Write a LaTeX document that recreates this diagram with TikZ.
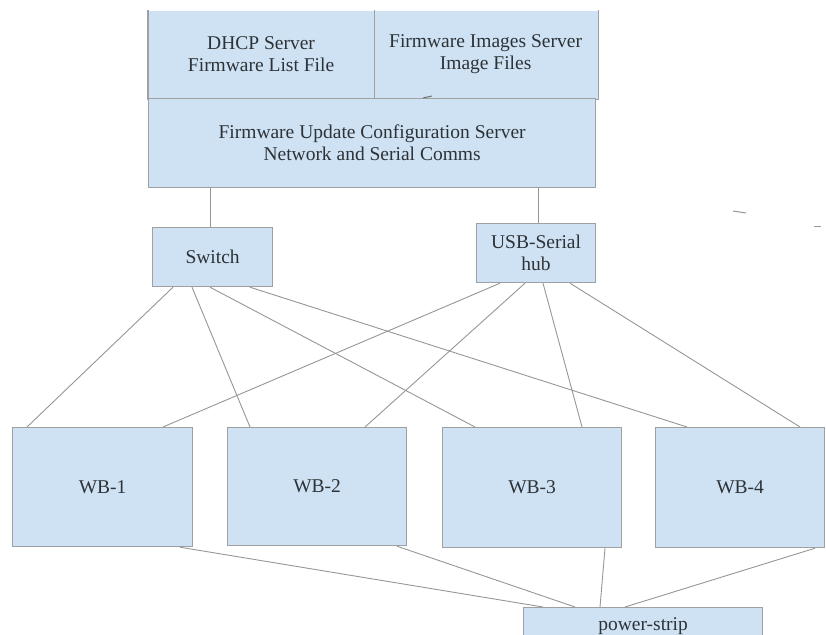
\documentclass[tikz,border=0pt]{standalone}
\usepackage{fontspec}
\setmainfont{Liberation Serif}
\usetikzlibrary{calc}
\definecolor{boxfill}{RGB}{207,226,243}
\definecolor{boxline}{RGB}{158,160,162}
\definecolor{wirecol}{RGB}{150,150,150}
\definecolor{txtcol}{RGB}{45,50,55}

\begin{document}
\begin{tikzpicture}[x=1pt,y=-1pt,
  box/.style={draw=boxline,fill=boxfill,line width=1.2pt,inner sep=0pt,
    anchor=north west,text=txtcol,align=center,
    font=\fontsize{19.5}{22}\selectfont},
  openbox/.style={box,draw=none},
  edge/.style={draw=boxline,line width=1.2pt},
  wire/.style={draw=wirecol,line width=0.9pt},
  speck/.style={draw=wirecol,line width=1pt}]
\useasboundingbox (0,0) rectangle (826,634);
\clip (0,0) rectangle (826,634);

% servers (the upper pair is open at the top)
\node[openbox,minimum width=225,minimum height=88] (dhcp) at (148,10) {DHCP Server\\Firmware List File};
\node[openbox,minimum width=224,minimum height=88] (img) at (373,10) {Firmware Images Server\\Image Files};
\draw[edge] (dhcp.north west) -- (dhcp.south west) -- (img.south east) -- (img.north east);
\draw[edge] (dhcp.north east) -- (dhcp.south east);
\node[box,minimum width=447,minimum height=89] (cfg) at (148,98) {Firmware Update Configuration Server\\Network and Serial Comms};

% distribution
\node[box,minimum width=120,minimum height=59] (sw) at (152,227) {Switch};
\node[box,minimum width=119,minimum height=59] (usb) at (476,223) {USB-Serial\\hub};

% boards
\node[box,minimum width=180,minimum height=119] (wb1) at (12,427) {WB-1};
\node[box,minimum width=179,minimum height=118] (wb2) at (227,427) {WB-2};
\node[box,minimum width=179,minimum height=120] (wb3) at (442,427) {WB-3};
\node[box,minimum width=169,minimum height=120] (wb4) at (655,427) {WB-4};

% power
\node[box,minimum width=239,minimum height=37] (ps) at (523,607) {power-strip};

% server to distribution
\draw[wire] ([xshift=62]cfg.south west) -- ([xshift=58]sw.north west);
\draw[wire] ([xshift=390]cfg.south west) -- ([xshift=62]usb.north west);

% network links
\draw[wire] ([xshift=21]sw.south west) -- ([xshift=15]wb1.north west);
\draw[wire] ([xshift=40]sw.south west) -- ([xshift=23]wb2.north west);
\draw[wire] ([xshift=58]sw.south west) -- ([xshift=33]wb3.north west);
\draw[wire] ([xshift=98]sw.south west) -- ([xshift=32]wb4.north west);

% serial links
\draw[wire] ([xshift=24]usb.south west) -- ([xshift=151]wb1.north west);
\draw[wire] ([xshift=49]usb.south west) -- ([xshift=138]wb2.north west);
\draw[wire] ([xshift=67]usb.south west) -- ([xshift=140]wb3.north west);
\draw[wire] ([xshift=94]usb.south west) -- ([xshift=145]wb4.north west);

% power links
\draw[wire] ([xshift=168]wb1.south west) -- ([xshift=20]ps.north west);
\draw[wire] ([xshift=170]wb2.south west) -- ([xshift=52]ps.north west);
\draw[wire] ([xshift=163]wb3.south west) -- ([xshift=77]ps.north west);
\draw[wire] ([xshift=160]wb4.south west) -- ([xshift=102]ps.north west);

% small stray strokes
\draw[speck,draw=txtcol!70] (423,98) -- (432,96);
\draw[speck] (733,211) -- (746,213);
\draw[speck] (814,226) -- (821,226);
\end{tikzpicture}
\end{document}
